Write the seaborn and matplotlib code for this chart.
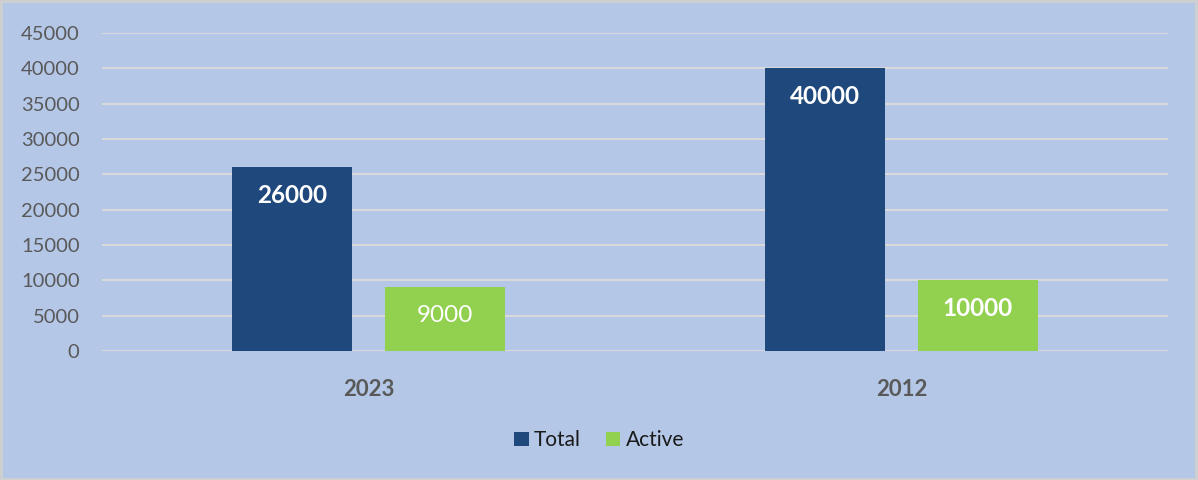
import matplotlib
matplotlib.use("Agg")
import matplotlib.pyplot as plt
import seaborn as sns
import pandas as pd
from matplotlib.patches import Rectangle, Patch

years = ["2023", "2012"]
series = ["Total", "Active"]
total_vals = [26000, 40000]
active_vals = [9000, 10000]
y_ticks = [0, 5000, 10000, 15000, 20000, 25000, 30000, 35000, 40000, 45000]

bg = "#B4C7E7"
colors = {"Total": "#1F497D", "Active": "#92D050"}

df = pd.DataFrame({
    "year": years * 2,
    "series": ["Total"] * len(years) + ["Active"] * len(years),
    "value": total_vals + active_vals,
})

sns.set_theme(style="white")
plt.rcParams["font.family"] = ["Lato", "DejaVu Sans"]

fig = plt.figure(figsize=(11.98, 4.8), dpi=100, facecolor=bg)
ax = fig.add_axes([0.085, 0.269, 0.89, 0.662])
ax.set_facecolor(bg)

sns.barplot(data=df, x="year", y="value", hue="series", order=years,
            hue_order=series, palette=colors, width=0.572, gap=0.213,
            saturation=1, ax=ax, legend=False, zorder=3, linewidth=0,
            edgecolor="none")

ax.set_ylim(0, 45000)
ax.set_xlim(-0.5, 1.5)
ax.set_yticks(y_ticks)
ax.set_yticklabels([str(v) for v in y_ticks], fontsize=14.5, color="#595959")
ax.yaxis.grid(True, color="#D9D9D9", linewidth=1.5, zorder=0)
ax.set_axisbelow(True)
for s in ax.spines.values():
    s.set_visible(False)
ax.tick_params(axis="y", length=0, pad=16)
ax.tick_params(axis="x", length=0, pad=20)
for lbl in ax.get_xticklabels():
    lbl.set_fontsize(16)
    lbl.set_fontweight("bold")
    lbl.set_color("#595959")
ax.set_xlabel("")
ax.set_ylabel("")

label_bold = {"Total": [True, True], "Active": [False, True]}
for container, name in zip(ax.containers, series):
    for bar, bold in zip(container, label_bold[name]):
        h = bar.get_height()
        ax.annotate(f"{int(h)}", (bar.get_x() + bar.get_width() / 2, h),
                    xytext=(0, -28), textcoords="offset pixels",
                    ha="center", va="center", color="white", fontsize=17.5,
                    fontweight="bold" if bold else "normal", zorder=5)

handles = [Patch(facecolor=colors[s], edgecolor="none") for s in series]
fig.legend(handles, series, loc="center", bbox_to_anchor=(0.5, 0.083), ncol=2,
           frameon=False, fontsize=15, handlelength=0.7, handleheight=0.7,
           handletextpad=0.25, columnspacing=1.2, labelcolor="#1a1a1a")

fig.patches.append(Rectangle((0.001, 0.002), 0.997, 0.995, transform=fig.transFigure,
                             fill=False, edgecolor="#D0D0D0", linewidth=2))

fig.savefig("out.png", dpi=100, facecolor=bg)
